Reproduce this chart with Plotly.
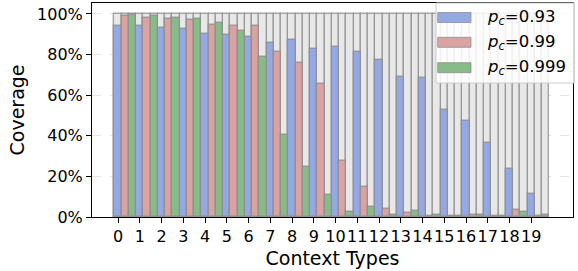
import plotly.graph_objects as go

categories = list(range(20))
tick_labels = [str(c) for c in categories]
series_names = ["<i>p<sub>c</sub></i>=0.93", "<i>p<sub>c</sub></i>=0.99", "<i>p<sub>c</sub></i>=0.999"]

cov_093 = [94.2, 93.9, 92.9, 92.6, 90.1, 89.8, 88.5, 85.7, 87.0, 82.7,
           83.7, 81.5, 77.4, 68.9, 68.4, 52.7, 47.4, 36.3, 23.6, 11.2]
cov_099 = [98.8, 98.0, 97.7, 97.2, 94.7, 94.2, 93.9, 81.2, 75.8, 65.4,
           27.5, 14.8, 4.1, 2.2, 0.5, 0.3, 0.8, 0.3, 3.3, 0.5]
cov_0999 = [99.3, 99.0, 98.0, 97.5, 95.5, 91.4, 78.6, 40.4, 24.7, 10.7,
            2.5, 4.9, 1.2, 2.8, 1.2, 0.3, 0.8, 0.3, 2.3, 1.2]
full = [100.0] * 20

series = [cov_093, cov_099, cov_0999]
colors = ["#94A8E4", "#DBA2A2", "#87BB87"]
edge = "rgba(140,140,140,0.75)"
W = 1 / 3

fig = go.Figure()
for k, vals in enumerate(series):
    fig.add_trace(go.Bar(
        x=categories, y=[v / 100 for v in full], width=W, offset=k * W - W / 2,
        marker=dict(color="#E8E8E8", line=dict(color=edge, width=1.4)),
        showlegend=False, hoverinfo="skip"))
for k, vals in enumerate(series):
    fig.add_trace(go.Bar(
        x=categories, y=[v / 100 for v in vals], width=W, offset=k * W - W / 2,
        marker=dict(color=colors[k], line=dict(color=edge, width=1.4)),
        name=series_names[k], showlegend=False))

# manual legend (matplotlib style)
shapes = [dict(type="rect", xref="paper", yref="paper", x0=0.7152, x1=1.003, y0=0.626, y1=1.0,
               fillcolor="rgba(255,255,255,0.85)", line=dict(color="#CCCCCC", width=1), layer="above")]
annotations = []
row_y = [0.9322, 0.8163, 0.6977]
for k in range(3):
    shapes.append(dict(type="rect", xref="paper", yref="paper", x0=0.7187, x1=0.7879,
                       y0=row_y[k] - 0.0234, y1=row_y[k] + 0.0234,
                       fillcolor=colors[k], line=dict(color=edge, width=1), layer="above"))
    annotations.append(dict(xref="paper", yref="paper", x=0.8190, y=row_y[k], xanchor="left",
                            yanchor="middle", text=series_names[k], showarrow=False, borderpad=0,
                            font=dict(size=16.5, color="black", family="DejaVu Sans")))

fig.update_layout(
    width=578, height=271,
    margin=dict(l=92, r=5, t=3, b=54),
    barmode="overlay", bargap=0,
    plot_bgcolor="white", paper_bgcolor="white",
    font=dict(family="DejaVu Sans", size=16, color="black"),
    shapes=shapes, annotations=annotations,
    showlegend=False,
)
fig.update_xaxes(
    range=[-1.2, 20.92], tickmode="array", tickvals=categories, ticktext=tick_labels,
    tickangle=0, ticks="outside", ticklen=5, tickcolor="black", showgrid=False, zeroline=False,
    showline=True, linecolor="black", linewidth=1, mirror=True,
    title=dict(text="Context Types", font=dict(size=19), standoff=6),
    tickfont=dict(size=16),
)
fig.update_yaxes(
    range=[0, 1.054], tickvals=[0, 0.2, 0.4, 0.6, 0.8, 1.0], tickformat=".0%",
    ticks="outside", ticklen=5, tickcolor="black",
    showgrid=True, gridcolor="#E4E4E4", griddash="dash", gridwidth=1, zeroline=False,
    showline=True, linecolor="black", linewidth=1, mirror=True,
    title=dict(text="Coverage", font=dict(size=19), standoff=7),
    tickfont=dict(size=16),
)

fig.write_html("out.html", config={"displayModeBar": False},
               post_script="document.body.style.margin='0';document.body.style.overflow='hidden';")
